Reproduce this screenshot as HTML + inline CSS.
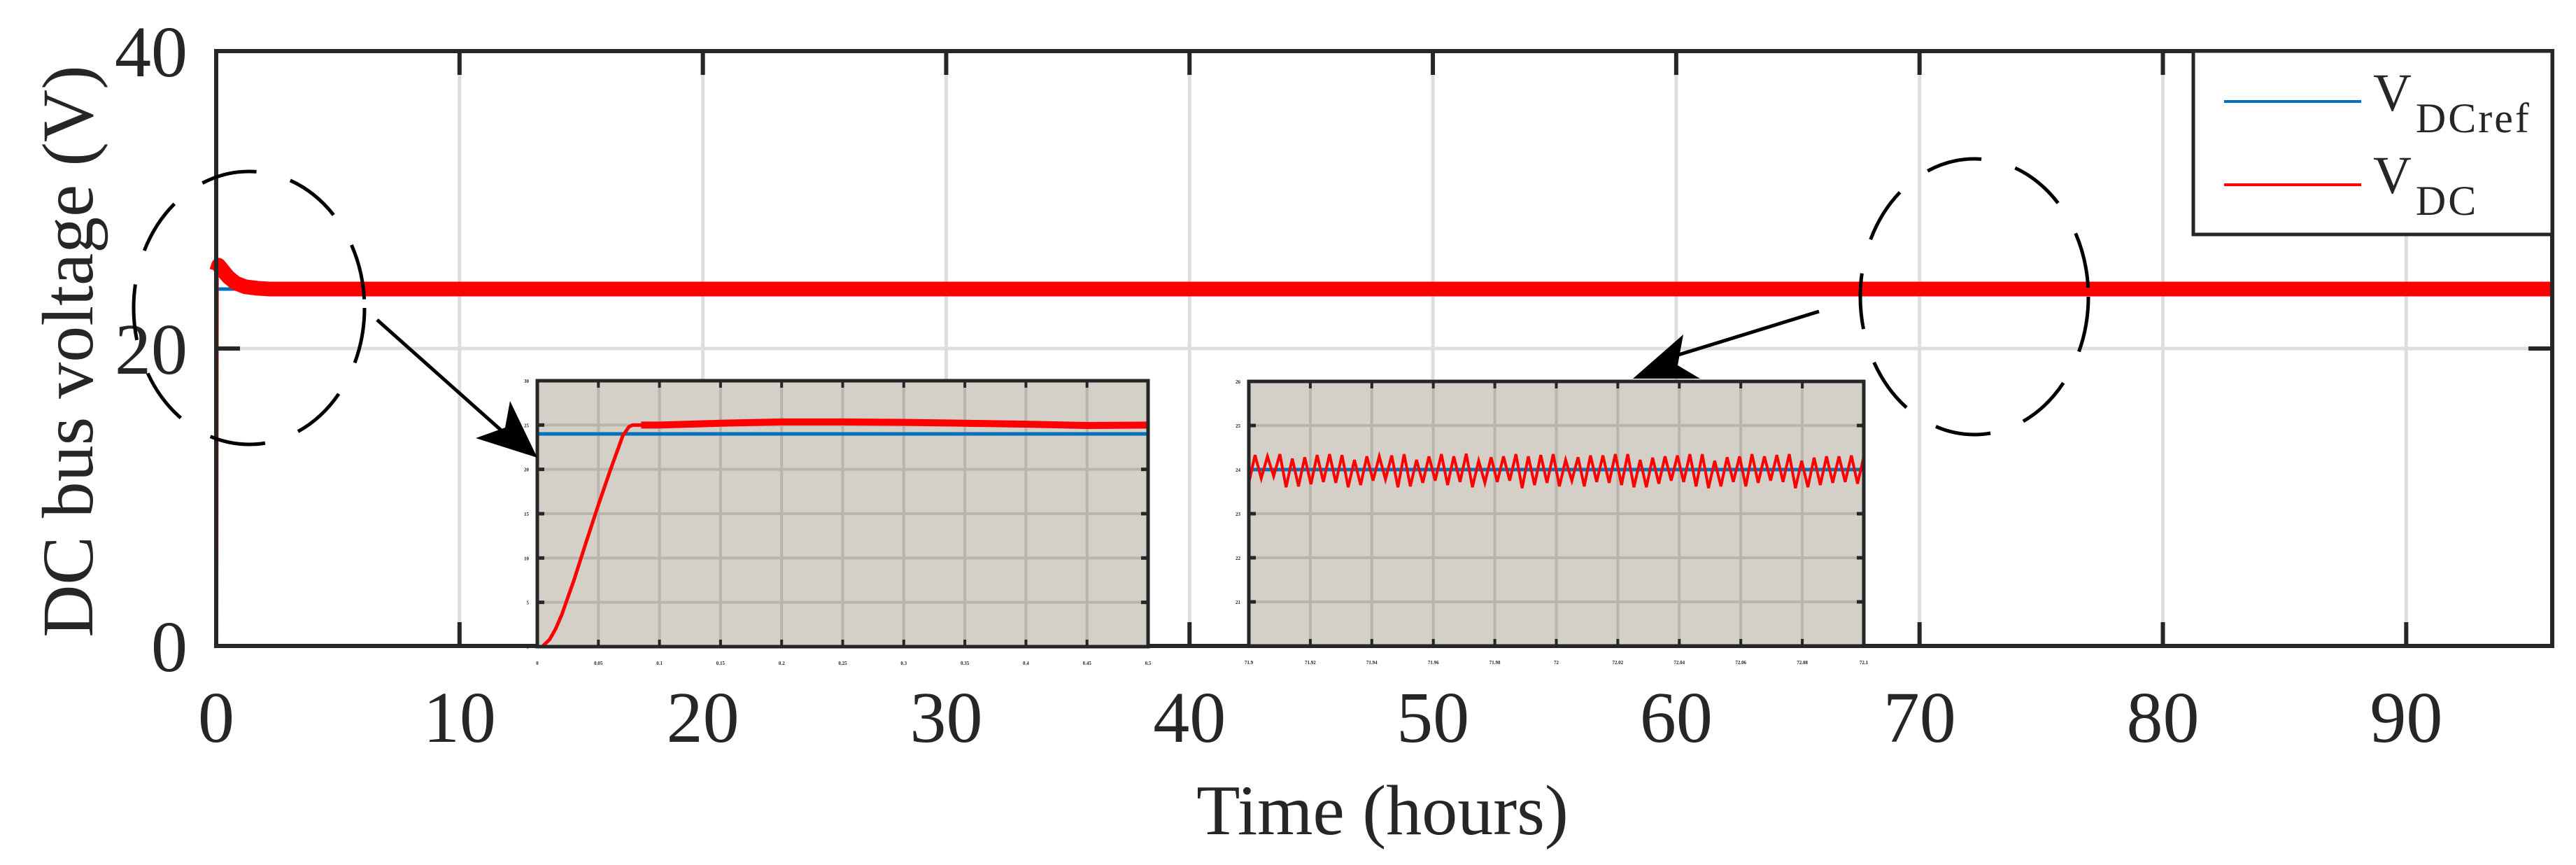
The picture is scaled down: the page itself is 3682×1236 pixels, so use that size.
<!DOCTYPE html>
<html><head><meta charset="utf-8"><style>
html,body{margin:0;padding:0;background:#fff;}
svg{display:block;}
text{font-family:"Liberation Serif",serif;fill:#262626;}
</style></head><body>
<svg id="chart" width="3682" height="1236" viewBox="0 0 3682 1236" xmlns="http://www.w3.org/2000/svg">
<g id="main-grid"></g>
<g id="main-series"></g>
<g id="main-axes"></g>
<g id="insets"></g>
<g id="annot">
  <ellipse cx="356" cy="440" rx="165" ry="195" fill="none" stroke="#000" stroke-width="5" stroke-dasharray="80,50"/>
  <ellipse cx="2822" cy="424" rx="163" ry="197" fill="none" stroke="#000" stroke-width="5" stroke-dasharray="80,50"/>
  <line x1="539" y1="457" x2="730" y2="627" stroke="#000" stroke-width="5"/>
  <polygon points="768,654 680,626 722,611 729,573" fill="#000"/>
  <line x1="2600" y1="445" x2="2370" y2="516" stroke="#000" stroke-width="5"/>
  <polygon points="2334,541 2406,478 2398,522 2430,541" fill="#000"/>
</g>
<g id="legend">
  <rect x="3135" y="73" width="513" height="262" fill="#fff" stroke="#262626" stroke-width="5"/>
  <line x1="3179" y1="145" x2="3375" y2="145" stroke="#0072bd" stroke-width="4"/>
  <line x1="3179" y1="264" x2="3375" y2="264" stroke="#ff0000" stroke-width="4"/>
  <text x="3392" y="158" font-size="76">V<tspan font-size="60" dy="31" dx="6" letter-spacing="3">DCref</tspan></text>
  <text x="3392" y="276" font-size="76">V<tspan font-size="60" dy="31" dx="6" letter-spacing="3">DC</tspan></text>
</g>
<text x="1976" y="1192" font-size="102" text-anchor="middle">Time (hours)</text>
<text transform="translate(132,502) rotate(-90)" font-size="104" text-anchor="middle">DC bus voltage (V)</text>
</svg>
<script>
// ---- main chart data ----
const mainXTicks = [0,10,20,30,40,50,60,70,80,90];
const mainYTicks = [0,20,40];
const mainTime = [0,0.02,0.1,0.25,0.5,0.8,1.2,1.7,2.2,10,30,50,70,96];
const mainVdc = [0,25.2,25.6,25.3,24.8,24.4,24.15,24.05,24,24,24,24,24,24];
const mainRefTime = [0,96];
const mainRefV = [24,24];
// ---- inset 1 data (start-up) ----
const in1XTicks = [0,0.05,0.1,0.15,0.2,0.25,0.3,0.35,0.4,0.45,0.5];
const in1XLabels = ["0","0.05","0.1","0.15","0.2","0.25","0.3","0.35","0.4","0.45","0.5"];
const in1YTicks = [0,5,10,15,20,25,30];
const in1Time = [0,0,0.004,0.01,0.015,0.02,0.03,0.04,0.05,0.06,0.07,0.075,0.078,0.085,0.1,0.15,0.2,0.25,0.3,0.35,0.4,0.45,0.5];
const in1Vdc = [23.7,0,0,0.8,2,3.6,7.5,11.8,16,20,23.8,24.8,25,25,25,25.2,25.35,25.35,25.3,25.2,25.1,24.95,25];
const in1Ref = [24,24];
// ---- inset 2 data (steady state ripple) ----
const in2XTicks = [0,1,2,3,4,5,6,7,8,9,10];
const in2XLabels = ["71.9","71.92","71.94","71.96","71.98","72","72.02","72.04","72.06","72.08","72.1"];
const in2YTicks = [20,21,22,23,24,25,26];
const in2Vdc = [23.7,24.33,23.8,24.3,23.85,24.35,23.6,24.25,23.62,24.28,23.67,24.33,23.72,24.35,23.7,24.33,23.6,24.22,23.65,24.3,23.75,24.3,23.78,24.32,23.6,24.35,23.62,24.22,23.7,24.3,23.75,24.35,23.65,24.3,23.72,24.36,23.6,24.2,23.7,24.28,23.72,24.3,23.75,24.35,23.58,24.3,23.65,24.33,23.7,24.35,23.62,24.22,23.75,24.28,23.62,24.32,23.72,24.32,23.7,24.35,23.65,24.35,23.6,24.22,23.6,24.27,23.68,24.3,23.75,24.32,23.72,24.35,23.62,24.35,23.58,24.2,23.62,24.28,23.72,24.3,23.62,24.35,23.7,24.3,23.75,24.33,23.72,24.35,23.58,24.2,23.6,24.27,23.65,24.3,23.7,24.3,23.72,24.32,23.68,24.3];
const in2Ref = [24,24];

const NS="http://www.w3.org/2000/svg";
function mk(tag, attrs, parent){const e=document.createElementNS(NS,tag);for(const k in attrs)e.setAttribute(k,attrs[k]);parent.appendChild(e);return e;}
const PL=309, PR=3648, PT=73, PB=923, XMAX=96, YMAX=40;
const sx = t => PL + t/XMAX*(PR-PL);
const sy = v => PB - v/YMAX*(PB-PT);

const grid=document.getElementById('main-grid');
const series=document.getElementById('main-series');
const axes=document.getElementById('main-axes');
mk('rect',{x:PL,y:PT,width:PR-PL,height:PB-PT,fill:'#fff'},grid);
mainXTicks.forEach(t=>{ if(t===0) return;
  const g=mk('line',{x1:sx(t),x2:sx(t),y1:PT,y2:PB,stroke:'#dedede','stroke-width':5},grid);
  
  
});
mainYTicks.forEach(v=>{ if(v===0||v===YMAX) return;
  const g=mk('line',{x1:PL,x2:PR,y1:sy(v),y2:sy(v),stroke:'#dedede','stroke-width':5},grid);
  
  
});
const refPath=mk('polyline',{points:mainRefTime.map((t,i)=>sx(t)+','+sy(mainRefV[i])).join(' '),fill:'none',stroke:'#0072bd','stroke-width':5},series);


const vPath=mk('polyline',{points:mainTime.slice(1).map((t,i)=>sx(t)+','+sy(mainVdc[i+1])).join(' '),fill:'none',stroke:'#ff0000','stroke-width':21,'stroke-linejoin':'round'},series);


const vStart=mk('line',{x1:sx(mainTime[0]),x2:sx(mainTime[1]),y1:sy(mainVdc[0]),y2:sy(mainVdc[1]),stroke:'#ff0000','stroke-width':6},series);



const box=mk('rect',{x:PL,y:PT,width:PR-PL,height:PB-PT,fill:'none',stroke:'#262626','stroke-width':6},axes);


mainXTicks.forEach(t=>{
  mk('line',{x1:sx(t),x2:sx(t),y1:PB,y2:PB-34,stroke:'#262626','stroke-width':6},axes);
  mk('line',{x1:sx(t),x2:sx(t),y1:PT,y2:PT+34,stroke:'#262626','stroke-width':6},axes);
  const l=mk('text',{x:sx(t),y:1060,'font-size':104,'text-anchor':'middle'},axes);
  l.textContent=t;
  
  
});
mainYTicks.forEach(v=>{
  mk('line',{x1:PL,x2:PL+34,y1:sy(v),y2:sy(v),stroke:'#262626','stroke-width':6},axes);
  mk('line',{x1:PR,x2:PR-34,y1:sy(v),y2:sy(v),stroke:'#262626','stroke-width':6},axes);
  const l=mk('text',{x:268,y:sy(v)+36,'font-size':104,'text-anchor':'end'},axes);
  l.textContent=v;
  
  
});

const insets=document.getElementById('insets');
function drawInset(name,L,R,T,B,xmin,xmax,ymin,ymax,xt,xl,yt,draw){
  const g=mk('g',{},insets);
  
  
  const fx=x=>L+(x-xmin)/(xmax-xmin)*(R-L);
  const fy=v=>B-(v-ymin)/(ymax-ymin)*(B-T);
  mk('rect',{x:L,y:T,width:R-L,height:B-T,fill:'#d4d0c8'},g);
  xt.forEach((x,i)=>{
    mk('line',{x1:fx(x),x2:fx(x),y1:T,y2:B,stroke:'#b9b5ad','stroke-width':4},g);
    mk('line',{x1:fx(x),x2:fx(x),y1:B,y2:B-10,stroke:'#262626','stroke-width':4},g);
    mk('line',{x1:fx(x),x2:fx(x),y1:T,y2:T+10,stroke:'#262626','stroke-width':4},g);
    const l=mk('text',{x:fx(x),y:B+26,'font-size':7,'text-anchor':'middle','font-weight':'bold'},g);
    l.textContent=xl[i];
  });
  yt.forEach(v=>{
    mk('line',{x1:L,x2:R,y1:fy(v),y2:fy(v),stroke:'#b9b5ad','stroke-width':4},g);
    mk('line',{x1:L,x2:L+10,y1:fy(v),y2:fy(v),stroke:'#262626','stroke-width':5},g);
    mk('line',{x1:R,x2:R-10,y1:fy(v),y2:fy(v),stroke:'#262626','stroke-width':5},g);
    const l=mk('text',{x:L-12,y:fy(v)+3,'font-size':7,'text-anchor':'end','font-weight':'bold'},g);
    l.textContent=v;
  });
  draw(g,fx,fy);
  mk('rect',{x:L,y:T,width:R-L,height:B-T,fill:'none',stroke:'#262626','stroke-width':5},g);
}
drawInset('inset-startup',768,1641,544,924,0,0.5,0,30,in1XTicks,in1XLabels,in1YTicks,(g,fx,fy)=>{
  const r=mk('line',{x1:fx(0),x2:fx(0.5),y1:fy(in1Ref[0]),y2:fy(in1Ref[1]),stroke:'#0072bd','stroke-width':5},g);
  
  
  const p=mk('polyline',{points:in1Time.map((t,i)=>fx(t)+','+fy(in1Vdc[i])).join(' '),fill:'none',stroke:'#ff0000','stroke-width':5,'stroke-linejoin':'round'},g);
  
  
  const p2=mk('polyline',{points:in1Time.slice(13).map((t,i)=>fx(t)+','+fy(in1Vdc[i+13])).join(' '),fill:'none',stroke:'#ff0000','stroke-width':10,'stroke-linejoin':'round'},g);
  
  
});
drawInset('inset-steady',1785,2664,545,923,0,10,20,26,in2XTicks,in2XLabels,in2YTicks,(g,fx,fy)=>{
  const r=mk('line',{x1:fx(0),x2:fx(10),y1:fy(in2Ref[0]),y2:fy(in2Ref[1]),stroke:'#0072bd','stroke-width':5},g);
  
  
  const n=in2Vdc.length;
  const p=mk('polyline',{points:in2Vdc.map((v,i)=>fx(i/(n-1)*10)+','+fy(v)).join(' '),fill:'none',stroke:'#ff0000','stroke-width':4},g);
  
  
});
const svg=document.getElementById('chart');
svg.appendChild(document.getElementById('annot'));
svg.appendChild(document.getElementById('legend'));
</script>
</body></html>
